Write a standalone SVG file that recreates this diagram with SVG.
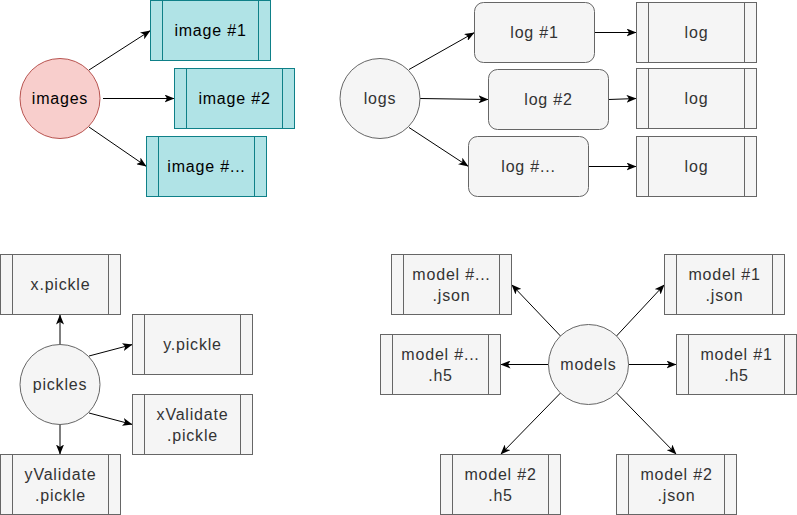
<svg xmlns="http://www.w3.org/2000/svg" width="797" height="515" viewBox="0 0 797 515">
<defs>
<marker id="arr" markerUnits="userSpaceOnUse" viewBox="0 0 10 8" refX="10" refY="4" markerWidth="10" markerHeight="8" orient="auto">
<path d="M0,0 L10,4 L0,8 L2.5,4 Z" fill="#000"/>
</marker>
</defs>
<style>
text{font-family:"Comic Sans MS","Liberation Sans",sans-serif;font-size:16px;letter-spacing:0.8px;text-anchor:middle;fill:#333333}
.red{fill:#f8cecc;stroke:#b85450;stroke-width:1}
.teal{fill:#b0e3e6;stroke:#0e8088;stroke-width:1}
.tealline{stroke:#0e8088;stroke-width:1}
.gray{fill:#f5f5f5;stroke:#666666;stroke-width:1}
.grayline{stroke:#666666;stroke-width:1}
.dark{fill:#000000}
#connectors line{stroke:#000;stroke-width:1;marker-end:url(#arr)}
</style>
<g id="connectors">
<line x1="89" y1="70" x2="150.5" y2="30.5"/>
<line x1="103" y1="98.5" x2="174.5" y2="98.5"/>
<line x1="89" y1="127" x2="146.5" y2="166.5"/>
<line x1="409" y1="69.5" x2="474.5" y2="32.5"/>
<line x1="420" y1="98.5" x2="488.5" y2="99.5"/>
<line x1="409" y1="127.5" x2="468.5" y2="166.5"/>
<line x1="594.5" y1="32.5" x2="636.5" y2="32.5"/>
<line x1="608.5" y1="99.5" x2="636.5" y2="98.5"/>
<line x1="588.5" y1="166.5" x2="636.5" y2="166.5"/>
<line x1="60" y1="344.5" x2="60" y2="314.5"/>
<line x1="89" y1="356" x2="132.5" y2="344.5"/>
<line x1="89" y1="413" x2="132.5" y2="424.5"/>
<line x1="60" y1="424.5" x2="60" y2="454.5"/>
<line x1="560.5" y1="336" x2="511.5" y2="284.5"/>
<line x1="616.5" y1="336" x2="664.5" y2="284.5"/>
<line x1="548.5" y1="364.5" x2="500.5" y2="364.5"/>
<line x1="628.5" y1="364.5" x2="676.5" y2="364.5"/>
<line x1="560.5" y1="393" x2="500.5" y2="454.5"/>
<line x1="616.5" y1="393" x2="676.5" y2="454.5"/>
</g>

<g id="images"><circle class="red" cx="60" cy="98.5" r="40"/><text class="dark" x="60" y="104">images</text></g>
<g id="image1"><rect class="teal" x="150.5" y="0.5" width="120" height="60"/><line class="tealline" x1="162.5" y1="0.5" x2="162.5" y2="60.5"/><line class="tealline" x1="258.5" y1="0.5" x2="258.5" y2="60.5"/><text class="dark" x="210.5" y="36">image #1</text></g>
<g id="image2"><rect class="teal" x="174.5" y="68.5" width="120" height="60"/><line class="tealline" x1="186.5" y1="68.5" x2="186.5" y2="128.5"/><line class="tealline" x1="282.5" y1="68.5" x2="282.5" y2="128.5"/><text class="dark" x="234.5" y="104">image #2</text></g>
<g id="image3"><rect class="teal" x="146.5" y="136.5" width="120" height="60"/><line class="tealline" x1="158.5" y1="136.5" x2="158.5" y2="196.5"/><line class="tealline" x1="254.5" y1="136.5" x2="254.5" y2="196.5"/><text class="dark" x="206.5" y="172">image #...</text></g>

<g id="logs"><circle class="gray" cx="380" cy="98.5" r="40"/><text x="380" y="104">logs</text></g>
<g id="log1"><rect class="gray" x="474.5" y="2.5" width="120" height="60" rx="9"/><text x="534.5" y="38">log #1</text></g>
<g id="log2"><rect class="gray" x="488.5" y="69.5" width="120" height="60" rx="9"/><text x="548.5" y="105">log #2</text></g>
<g id="log3"><rect class="gray" x="468.5" y="136.5" width="120" height="60" rx="9"/><text x="528.5" y="172">log #...</text></g>
<g id="logfile1"><rect class="gray" x="636.5" y="2.5" width="120" height="60"/><line class="grayline" x1="648.5" y1="2.5" x2="648.5" y2="62.5"/><line class="grayline" x1="744.5" y1="2.5" x2="744.5" y2="62.5"/><text x="696.5" y="38">log</text></g>
<g id="logfile2"><rect class="gray" x="636.5" y="68.5" width="120" height="60"/><line class="grayline" x1="648.5" y1="68.5" x2="648.5" y2="128.5"/><line class="grayline" x1="744.5" y1="68.5" x2="744.5" y2="128.5"/><text x="696.5" y="104">log</text></g>
<g id="logfile3"><rect class="gray" x="636.5" y="136.5" width="120" height="60"/><line class="grayline" x1="648.5" y1="136.5" x2="648.5" y2="196.5"/><line class="grayline" x1="744.5" y1="136.5" x2="744.5" y2="196.5"/><text x="696.5" y="172">log</text></g>

<g id="pickles"><circle class="gray" cx="60" cy="384.5" r="40"/><text x="60" y="390">pickles</text></g>
<g id="xpickle"><rect class="gray" x="0.5" y="254.5" width="120" height="60"/><line class="grayline" x1="12.5" y1="254.5" x2="12.5" y2="314.5"/><line class="grayline" x1="108.5" y1="254.5" x2="108.5" y2="314.5"/><text x="60.5" y="290">x.pickle</text></g>
<g id="ypickle"><rect class="gray" x="132.5" y="314.5" width="120" height="60"/><line class="grayline" x1="144.5" y1="314.5" x2="144.5" y2="374.5"/><line class="grayline" x1="240.5" y1="314.5" x2="240.5" y2="374.5"/><text x="192.5" y="350">y.pickle</text></g>
<g id="xvalidate"><rect class="gray" x="132.5" y="394.5" width="120" height="60"/><line class="grayline" x1="144.5" y1="394.5" x2="144.5" y2="454.5"/><line class="grayline" x1="240.5" y1="394.5" x2="240.5" y2="454.5"/><text x="192.5" y="420">xValidate</text><text x="192.5" y="440.5">.pickle</text></g>
<g id="yvalidate"><rect class="gray" x="0.5" y="454.5" width="120" height="60"/><line class="grayline" x1="12.5" y1="454.5" x2="12.5" y2="514.5"/><line class="grayline" x1="108.5" y1="454.5" x2="108.5" y2="514.5"/><text x="60.5" y="480">yValidate</text><text x="60.5" y="500.5">.pickle</text></g>

<g id="models"><circle class="gray" cx="588.5" cy="364.5" r="40"/><text x="588.5" y="370">models</text></g>
<g id="modelNjson"><rect class="gray" x="391.5" y="254.5" width="120" height="60"/><line class="grayline" x1="403.5" y1="254.5" x2="403.5" y2="314.5"/><line class="grayline" x1="499.5" y1="254.5" x2="499.5" y2="314.5"/><text x="451.5" y="280">model #...</text><text x="451.5" y="300.5">.json</text></g>
<g id="model1json"><rect class="gray" x="664.5" y="254.5" width="120" height="60"/><line class="grayline" x1="676.5" y1="254.5" x2="676.5" y2="314.5"/><line class="grayline" x1="772.5" y1="254.5" x2="772.5" y2="314.5"/><text x="724.5" y="280">model #1</text><text x="724.5" y="300.5">.json</text></g>
<g id="modelNh5"><rect class="gray" x="380.5" y="334.5" width="120" height="60"/><line class="grayline" x1="392.5" y1="334.5" x2="392.5" y2="394.5"/><line class="grayline" x1="488.5" y1="334.5" x2="488.5" y2="394.5"/><text x="440.5" y="360">model #...</text><text x="440.5" y="380.5">.h5</text></g>
<g id="model1h5"><rect class="gray" x="676.5" y="334.5" width="120" height="60"/><line class="grayline" x1="688.5" y1="334.5" x2="688.5" y2="394.5"/><line class="grayline" x1="784.5" y1="334.5" x2="784.5" y2="394.5"/><text x="736.5" y="360">model #1</text><text x="736.5" y="380.5">.h5</text></g>
<g id="model2h5"><rect class="gray" x="440.5" y="454.5" width="120" height="60"/><line class="grayline" x1="452.5" y1="454.5" x2="452.5" y2="514.5"/><line class="grayline" x1="548.5" y1="454.5" x2="548.5" y2="514.5"/><text x="500.5" y="480">model #2</text><text x="500.5" y="500.5">.h5</text></g>
<g id="model2json"><rect class="gray" x="616.5" y="454.5" width="120" height="60"/><line class="grayline" x1="628.5" y1="454.5" x2="628.5" y2="514.5"/><line class="grayline" x1="724.5" y1="454.5" x2="724.5" y2="514.5"/><text x="676.5" y="480">model #2</text><text x="676.5" y="500.5">.json</text></g>
</svg>
